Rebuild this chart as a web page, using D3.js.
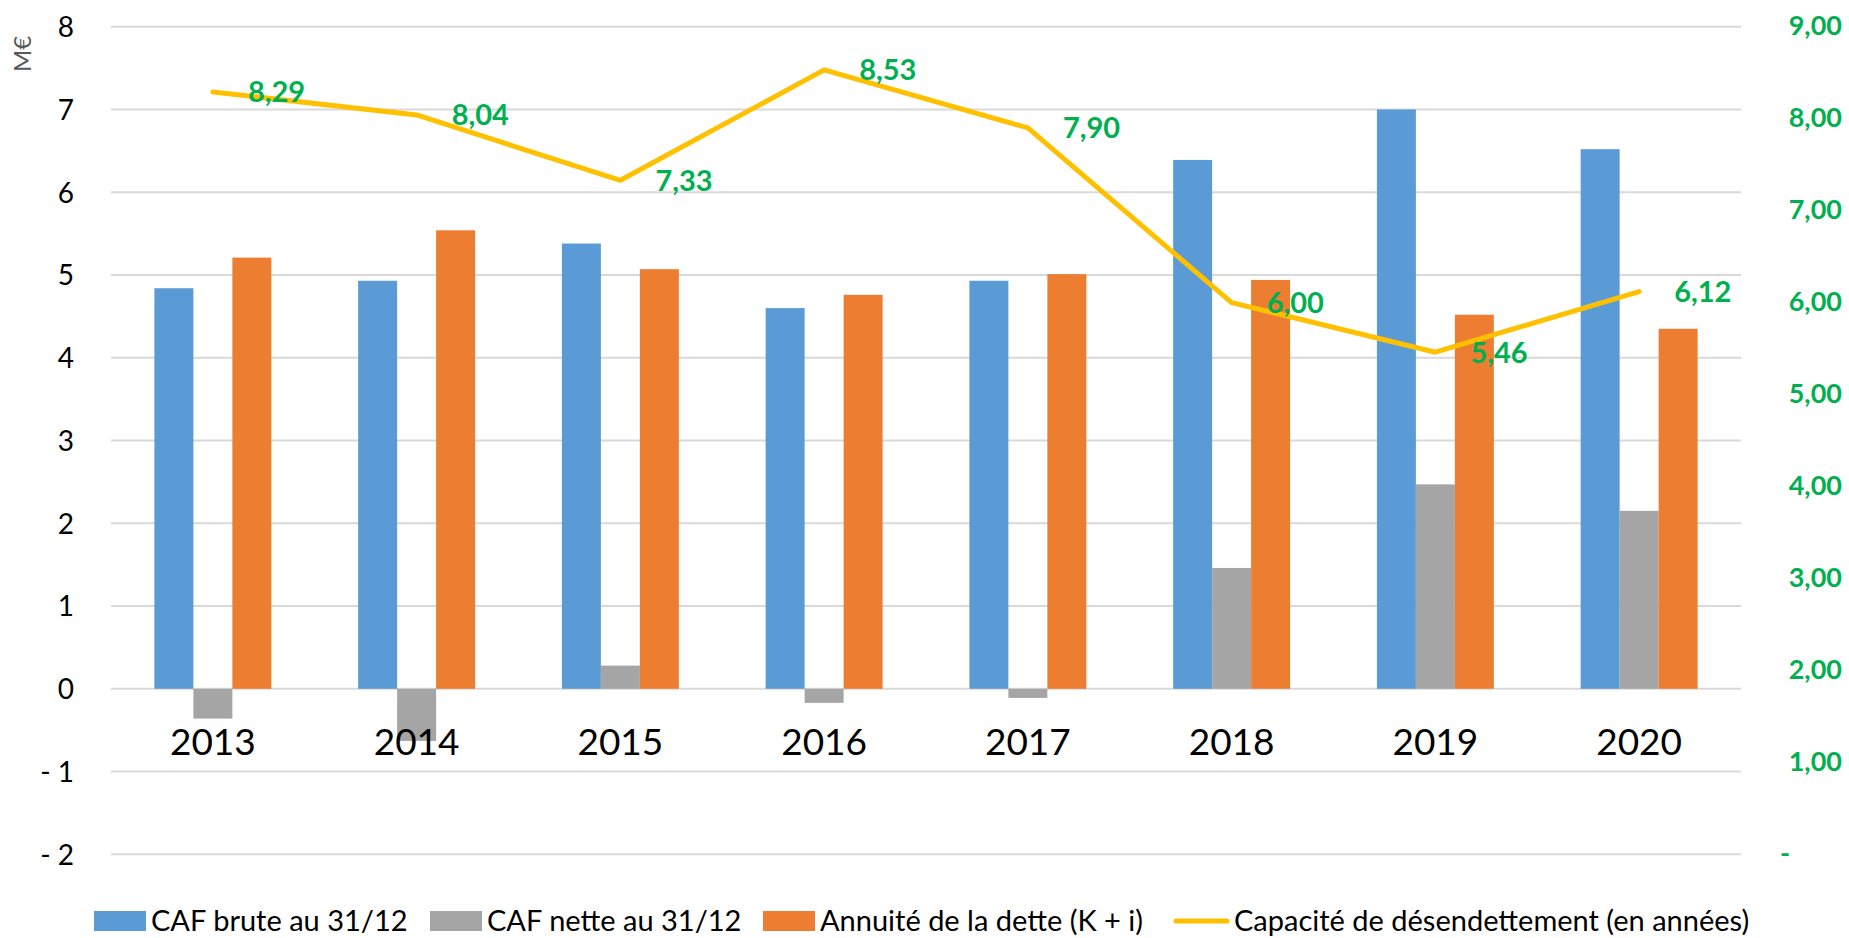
<!DOCTYPE html>
<html>
<head>
<meta charset="utf-8">
<script src="https://cdn.jsdelivr.net/npm/d3@7"></script>
<style>
  body { margin: 0; background: #ffffff; }
  svg text { font-family: 'Lato', 'Liberation Sans', sans-serif; }
</style>
</head>
<body>
<div id="chart"></div>
<script>
// data
var years = ['2013', '2014', '2015', '2016', '2017', '2018', '2019', '2020'];
var cafBrute = [4.84, 4.93, 5.38, 4.60, 4.93, 6.39, 7.00, 6.52];
var cafNette = [-0.36, -0.63, 0.28, -0.17, -0.11, 1.46, 2.47, 2.15];
var annuite = [5.21, 5.54, 5.07, 4.76, 5.01, 4.94, 4.52, 4.35];
var capacite = [8.29, 8.04, 7.33, 8.53, 7.90, 6.00, 5.46, 6.12];

var leftTicks = [-2, -1, 0, 1, 2, 3, 4, 5, 6, 7, 8];
var rightTicks = [0, 1, 2, 3, 4, 5, 6, 7, 8, 9];

var seriesNames = ['CAF brute au 31/12', 'CAF nette au 31/12', 'Annuité de la dette (K + i)'];
var seriesColors = ['#5B9BD5', '#A5A5A5', '#ED7D31'];
var lineName = 'Capacité de désendettement (en années)';
var lineColor = '#FFC000';
var labelColor = '#00B050';

var width = 1849, height = 938;
var plot = { left: 111, right: 1741, top: 26.7, bottom: 854.3 };

var svg = d3.select('#chart').append('svg')
    .attr('width', width)
    .attr('height', height);

var x0 = d3.scaleBand()
    .domain(years)
    .range([plot.left, plot.right])
    .paddingInner(0.426)
    .paddingOuter(0.213);

var x1 = d3.scaleBand()
    .domain(d3.range(seriesNames.length))
    .range([0, x0.bandwidth()]);

var yLeft = d3.scaleLinear().domain([-2, 8]).range([plot.bottom, plot.top]);
var yRight = d3.scaleLinear().domain([0, 9]).range([plot.bottom, plot.top]);

// gridlines
svg.append('g')
    .selectAll('line')
    .data(leftTicks)
    .join('line')
    .attr('x1', plot.left)
    .attr('x2', plot.right)
    .attr('y1', d => yLeft(d))
    .attr('y2', d => yLeft(d))
    .attr('stroke', '#D9D9D9')
    .attr('stroke-width', 2);

// left axis
var fmtLeft = d => d < 0 ? '- ' + Math.abs(d) : String(d);
var leftAxis = d3.axisLeft(yLeft).tickValues(leftTicks).tickSize(0).tickPadding(0).tickFormat(fmtLeft);
var gl = svg.append('g').attr('transform', 'translate(74,0)').call(leftAxis);
gl.select('.domain').remove();
gl.selectAll('text')
    .attr('font-family', "'Lato', sans-serif")
    .attr('font-size', 28)
    .attr('fill', '#000')
    .attr('dy', '0.35em');

// right axis
var fmtRight = d => d === 0 ? '-' : d.toFixed(2).replace('.', ',');
var rightAxis = d3.axisRight(yRight).tickValues(rightTicks).tickSize(0).tickPadding(0).tickFormat(fmtRight);
var gr = svg.append('g').attr('transform', 'translate(1842,0)').call(rightAxis);
gr.select('.domain').remove();
gr.selectAll('text')
    .attr('font-family', "'Lato', sans-serif")
    .attr('font-size', 27)
    .attr('font-weight', 'bold')
    .attr('fill', labelColor)
    .attr('text-anchor', 'end')
    .attr('dy', '0.3em')
    .attr('dx', d => d === 0 ? -52 : 0);

// M€ unit label
svg.append('text')
    .attr('transform', 'translate(31,54) rotate(-90)')
    .attr('text-anchor', 'middle')
    .attr('font-size', 24)
    .attr('fill', '#595959')
    .text('M€');

// bars
var allSeries = [cafBrute, cafNette, annuite];
var groups = svg.append('g')
    .selectAll('g')
    .data(years)
    .join('g')
    .attr('transform', d => 'translate(' + x0(d) + ',0)');

groups.selectAll('rect')
    .data((d, i) => allSeries.map((s, k) => ({ k: k, v: s[i] })))
    .join('rect')
    .attr('x', d => x1(d.k))
    .attr('width', x1.bandwidth())
    .attr('y', d => yLeft(Math.max(0, d.v)))
    .attr('height', d => Math.abs(yLeft(d.v) - yLeft(0)))
    .attr('fill', d => seriesColors[d.k]);

// year labels
svg.append('g')
    .selectAll('text')
    .data(years)
    .join('text')
    .attr('x', d => x0(d) + x0.bandwidth() / 2)
    .attr('y', 742)
    .attr('dy', '0.35em')
    .attr('text-anchor', 'middle')
    .attr('font-size', 37)
    .attr('fill', '#000')
    .text(d => d);

// line
var line = d3.line()
    .x((d, i) => x0(years[i]) + x0.bandwidth() / 2)
    .y(d => yRight(d));

svg.append('path')
    .datum(capacite)
    .attr('d', line)
    .attr('fill', 'none')
    .attr('stroke', lineColor)
    .attr('stroke-width', 5)
    .attr('stroke-linejoin', 'round')
    .attr('stroke-linecap', 'round');

// line labels
svg.append('g')
    .selectAll('text')
    .data(capacite)
    .join('text')
    .attr('x', (d, i) => x0(years[i]) + x0.bandwidth() / 2 + 35)
    .attr('y', d => yRight(d))
    .attr('dy', '0.36em')
    .attr('font-size', 29)
    .attr('font-weight', 'bold')
    .attr('fill', labelColor)
    .text(d => d.toFixed(2).replace('.', ','));

// legend
var legendX = [94, 430, 763];
var legend = svg.append('g');
seriesNames.forEach(function(name, k) {
    legend.append('rect')
        .attr('x', legendX[k])
        .attr('y', 911)
        .attr('width', 52)
        .attr('height', 20)
        .attr('fill', seriesColors[k]);
    legend.append('text')
        .attr('x', legendX[k] + 57)
        .attr('y', 921)
        .attr('dy', '0.36em')
        .attr('font-size', 29)
        .attr('fill', '#000')
        .text(name);
});
legend.append('line')
    .attr('x1', 1176)
    .attr('x2', 1227)
    .attr('y1', 921)
    .attr('y2', 921)
    .attr('stroke', lineColor)
    .attr('stroke-width', 5)
    .attr('stroke-linecap', 'round');
legend.append('text')
    .attr('x', 1234)
    .attr('y', 921)
    .attr('dy', '0.36em')
    .attr('font-size', 29)
    .attr('fill', '#000')
    .text(lineName);
</script>
</body>
</html>
